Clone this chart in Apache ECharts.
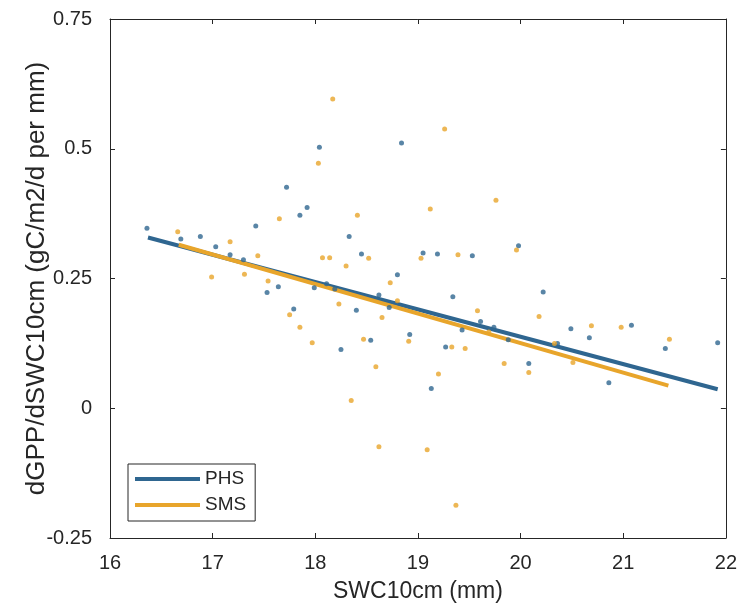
<!DOCTYPE html>
<html>
<head>
<meta charset="utf-8">
<script src="https://cdn.jsdelivr.net/npm/echarts@6/dist/echarts.min.js"></script>
<style>
  html, body { margin: 0; padding: 0; background: #fff; }
  #chart { width: 740px; height: 609px; }
</style>
</head>
<body>
<div id="chart"></div>
<script>
// PHS sample points: [SWC10cm (mm), dGPP/dSWC10cm]
var phsPoints = [
  [16.36, 0.347], [16.69, 0.326], [16.88, 0.331], [17.03, 0.311], [17.17, 0.296],
  [17.30, 0.286], [17.42, 0.351], [17.72, 0.426], [17.85, 0.372], [17.92, 0.387],
  [18.04, 0.503], [18.33, 0.331], [18.45, 0.297], [18.80, 0.257], [18.84, 0.511],
  [19.05, 0.299], [19.19, 0.297], [19.53, 0.294], [19.98, 0.313],
  [17.53, 0.223], [17.64, 0.234], [17.79, 0.191], [17.99, 0.232], [18.11, 0.240],
  [18.19, 0.230], [18.25, 0.113], [18.40, 0.189], [18.54, 0.131], [18.62, 0.218],
  [18.72, 0.194], [18.92, 0.142], [19.13, 0.038], [19.27, 0.118], [19.34, 0.215],
  [19.43, 0.151], [19.61, 0.167], [19.74, 0.156], [19.88, 0.132], [20.08, 0.086],
  [20.22, 0.224], [20.36, 0.125], [20.49, 0.153], [20.67, 0.136], [20.86, 0.049],
  [21.08, 0.160], [21.41, 0.115], [21.92, 0.126]
];

// SMS sample points
var smsPoints = [
  [16.66, 0.340], [16.99, 0.253], [17.17, 0.321], [17.31, 0.258], [17.44, 0.294],
  [17.65, 0.365], [18.03, 0.472], [18.07, 0.290], [18.14, 0.290], [18.17, 0.596],
  [18.30, 0.274], [18.41, 0.372], [18.52, 0.289], [19.26, 0.538], [19.12, 0.384],
  [19.76, 0.401], [19.03, 0.289], [19.39, 0.296], [19.96, 0.305],
  [17.54, 0.245], [17.75, 0.180], [17.85, 0.156], [17.97, 0.126], [18.23, 0.201],
  [18.35, 0.015], [18.47, 0.133], [18.65, 0.175], [18.59, 0.080], [18.62, -0.074],
  [18.73, 0.242], [18.80, 0.207], [18.91, 0.129], [19.09, -0.080], [19.20, 0.066],
  [19.33, 0.118], [19.37, -0.187], [19.46, 0.115], [19.58, 0.188], [19.69, 0.147],
  [19.84, 0.086], [20.08, 0.069], [20.18, 0.177], [20.33, 0.125], [20.51, 0.088],
  [20.69, 0.159], [20.98, 0.156], [21.45, 0.133]
];

// Linear fit end points for each group
var phsFit = [[16.37, 0.329], [21.92, 0.0365]];
var smsFit = [[16.67, 0.315], [21.44, 0.0436]];

// Axis ranges and ticks
var xTicks = { min: 16, max: 22, step: 1 };
var yTicks = { min: -0.25, max: 0.75, step: 0.25 };

var ink = '#262626';
var blue = '#2F6690';
var orange = '#E8A52B';
var font = '"Liberation Sans", Arial, sans-serif';

function boxAxis(base) {
  return Object.assign({
    splitLine: { show: false },
    nameMoveOverlap: false,
    axisLine: { show: true, onZero: false, lineStyle: { color: ink, width: 1 } },
    axisTick: { show: true, inside: true, length: 5, lineStyle: { color: ink } }
  }, base);
}

var chart = echarts.init(document.getElementById('chart'), null, { renderer: 'canvas' });

chart.setOption({
  backgroundColor: '#ffffff',
  animation: false,
  grid: { left: 110, right: 12, top: 19, bottom: 71, containLabel: false },
  xAxis: [
    boxAxis({
      type: 'value', position: 'bottom',
      min: xTicks.min, max: xTicks.max, interval: xTicks.step,
      name: 'SWC10cm (mm)', nameLocation: 'middle', nameGap: 42,
      nameTextStyle: { color: ink, fontSize: 23, fontFamily: font },
      axisLabel: { color: ink, fontSize: 20, fontFamily: font, margin: 15 }
    }),
    boxAxis({
      type: 'value', position: 'top',
      min: xTicks.min, max: xTicks.max, interval: xTicks.step,
      axisLabel: { show: false }
    })
  ],
  yAxis: [
    boxAxis({
      type: 'value', position: 'left',
      min: yTicks.min, max: yTicks.max, interval: yTicks.step,
      name: 'dGPP/dSWC10cm (gC/m2/d per mm)', nameLocation: 'middle', nameGap: 60,
      nameTextStyle: { color: ink, fontSize: 26, fontFamily: font },
      axisLabel: {
        color: ink, fontSize: 20, fontFamily: font, margin: 18,
        formatter: function (v) { return String(parseFloat(v.toFixed(2))); }
      }
    }),
    boxAxis({
      type: 'value', position: 'right',
      min: yTicks.min, max: yTicks.max, interval: yTicks.step,
      axisLabel: { show: false }
    })
  ],
  legend: {
    orient: 'vertical',
    left: 128, top: 464,
    padding: [5, 9, 6, 7],
    itemGap: 6,
    itemWidth: 65,
    itemHeight: 4,
    itemStyle: { borderWidth: 0 },
    borderColor: ink,
    borderWidth: 1,
    backgroundColor: '#ffffff',
    textStyle: { color: ink, fontSize: 19, fontFamily: font, lineHeight: 20 },
    data: [
      { name: 'PHS', icon: 'rect', itemStyle: { color: blue } },
      { name: 'SMS', icon: 'rect', itemStyle: { color: orange } }
    ]
  },
  series: [
    {
      name: 'PHS', type: 'line', data: phsFit, showSymbol: false, symbol: 'none',
      lineStyle: { color: blue, width: 4 }, itemStyle: { color: blue }, z: 2
    },
    {
      name: 'SMS', type: 'line', data: smsFit, showSymbol: false, symbol: 'none',
      lineStyle: { color: orange, width: 4 }, itemStyle: { color: orange }, z: 3
    },
    {
      name: 'PHS points', type: 'scatter', data: phsPoints, symbol: 'circle', symbolSize: 5,
      itemStyle: { color: blue }, z: 4
    },
    {
      name: 'SMS points', type: 'scatter', data: smsPoints, symbol: 'circle', symbolSize: 5,
      itemStyle: { color: orange }, z: 4
    }
  ]
});
</script>
</body>
</html>
